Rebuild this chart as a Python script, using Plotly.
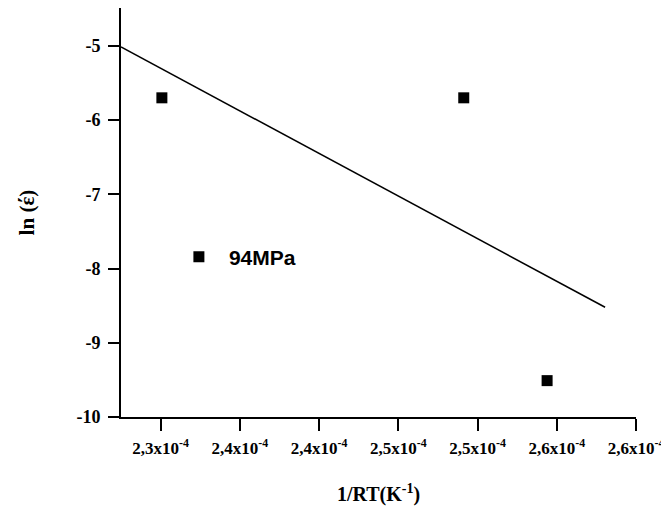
import numpy as np
import plotly.graph_objects as go

# Data
x_data = [2.3008e-4, 2.4913e-4, 2.5439e-4]
y_data = [-5.70, -5.70, -9.51]
series_name = "94MPa"

# Linear fit drawn over this x extent
fit_x_range = [2.275e-4, 2.5805e-4]

x_tickvals = [2.30e-4, 2.35e-4, 2.40e-4, 2.45e-4, 2.50e-4, 2.55e-4, 2.60e-4]
x_ticktext = ["2,3x10<sup>-4</sup>", "2,4x10<sup>-4</sup>", "2,4x10<sup>-4</sup>",
              "2,5x10<sup>-4</sup>", "2,5x10<sup>-4</sup>", "2,6x10<sup>-4</sup>",
              "2,6x10<sup>-4</sup>"]
y_tickvals = [-10, -9, -8, -7, -6, -5]
y_ticktext = ["-10", "-9", "-8", "-7", "-6", "-5"]

slope, intercept = np.polyfit(np.array(x_data), np.array(y_data), 1)
fit_x = np.array(fit_x_range)
fit_y = slope * fit_x + intercept

fig = go.Figure()
fig.add_trace(go.Scatter(
    x=fit_x, y=fit_y, mode="lines",
    line=dict(color="black", width=1.5),
    showlegend=False, hoverinfo="skip"))
fig.add_trace(go.Scatter(
    x=x_data, y=y_data, mode="markers", name="<b>" + series_name + "</b>",
    marker=dict(symbol="square", size=11, color="black")))

serif = "Liberation Serif, Times New Roman, serif"
fig.update_layout(
    width=661, height=500,
    margin=dict(l=113, r=33, t=0, b=91),
    paper_bgcolor="white", plot_bgcolor="white",
    showlegend=True,
    legend=dict(
        x=0.093, y=0.391, xanchor="left", yanchor="middle",
        bgcolor="rgba(0,0,0,0)", borderwidth=0, itemwidth=50,
        font=dict(family="Liberation Sans, Arial, sans-serif", size=21,
                  color="black")),
    xaxis=dict(
        range=[2.275e-4, 2.60e-4], automargin=False,
        tickvals=x_tickvals, ticktext=["<b>" + t + "</b>" for t in x_ticktext],
        showline=True, linecolor="black", linewidth=2,
        ticks="outside", ticklen=12, tickwidth=2, tickcolor="black",
        ticklabelstandoff=3,
        showgrid=False, zeroline=False,
        tickfont=dict(family=serif, size=17, color="black", weight="bold"),
        title=dict(text="<b>1/RT(K<sup>-1</sup>)</b>", standoff=30,
                   font=dict(family=serif, size=20, color="black")),
    ),
    yaxis=dict(
        range=[-10, -4.49], automargin=False,
        tickvals=y_tickvals, ticktext=["<b>" + t + "</b>" for t in y_ticktext],
        showline=True, linecolor="black", linewidth=2,
        ticks="outside", ticklen=11, tickwidth=2, tickcolor="black",
        ticklabelstandoff=4,
        showgrid=False, zeroline=False,
        tickfont=dict(family=serif, size=18, color="black", weight="bold"),
        title=dict(text="<b>ln (έ)</b>", standoff=36,
                   font=dict(family=serif, size=21, color="black")),
    ),
)

fig.write_html("out.html")
